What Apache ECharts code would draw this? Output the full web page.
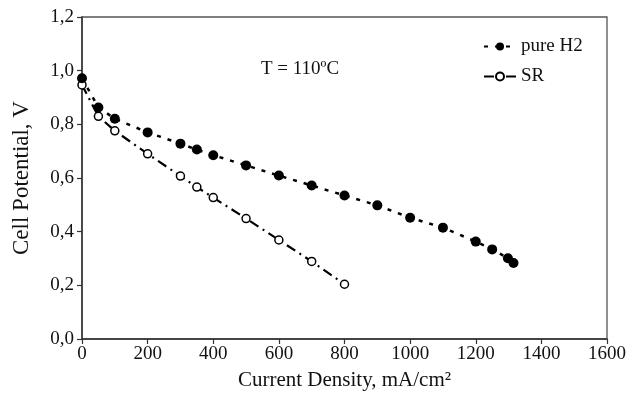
<!DOCTYPE html>
<html>
<head>
<meta charset="utf-8">
<script src="https://cdn.jsdelivr.net/npm/echarts@6/dist/echarts.min.js"></script>
<style>html,body{margin:0;padding:0;background:#fff}#c{width:638px;height:396px}</style>
</head>
<body>
<div id="c"></div>
<script>
// Data
const h2Current = [0, 50, 100, 200, 300, 350, 400, 500, 600, 700, 800, 900, 1000, 1100, 1200, 1250, 1298, 1315];
const h2Voltage = [0.972, 0.863, 0.821, 0.770, 0.728, 0.706, 0.685, 0.647, 0.609, 0.572, 0.535, 0.498, 0.452, 0.415, 0.363, 0.334, 0.301, 0.283];
const srCurrent = [0, 50, 100, 200, 300, 350, 400, 500, 600, 700, 800];
const srVoltage = [0.947, 0.830, 0.776, 0.690, 0.607, 0.566, 0.527, 0.449, 0.369, 0.289, 0.204];
const seriesNames = ['pure H2', 'SR'];
const xTicks = [0, 200, 400, 600, 800, 1000, 1200, 1400, 1600];
const yTicks = [0.0, 0.2, 0.4, 0.6, 0.8, 1.0, 1.2];
const annotation = 'T = 110ºC';

const serif = '"Liberation Serif", "DejaVu Serif", serif';
const chart = echarts.init(document.getElementById('c'), null, {renderer: 'canvas'});
const pair = (xs, ys) => xs.map((x, i) => [x, ys[i]]);

chart.setOption({
  animation: false,
  backgroundColor: '#fff',
  grid: {left: 82, right: 31, top: 17, bottom: 56, show: true, borderColor: '#555', borderWidth: 1.3},
  legend: {
    orient: 'vertical', left: 478, top: 32, itemGap: 11, itemWidth: 32, itemHeight: 10,
    textStyle: {fontFamily: serif, fontSize: 19, color: '#111'},
    data: seriesNames
  },
  xAxis: {
    type: 'value', min: xTicks[0], max: xTicks[xTicks.length - 1], interval: 200,
    name: 'Current Density, mA/cm²', nameLocation: 'middle', nameGap: 31,
    nameTextStyle: {fontFamily: serif, fontSize: 21, color: '#111'},
    axisLine: {show: true, lineStyle: {color: '#333', width: 1.5}},
    axisTick: {show: true, length: 5, lineStyle: {color: '#333', width: 1.2}},
    axisLabel: {fontFamily: serif, fontSize: 19, color: '#111', margin: 6,
      formatter: v => String(v)},
    splitLine: {show: false}
  },
  yAxis: {
    type: 'value', min: yTicks[0], max: yTicks[yTicks.length - 1], interval: 0.2,
    name: 'Cell Potential, V', nameLocation: 'middle', nameGap: 49,
    nameTextStyle: {fontFamily: serif, fontSize: 23, color: '#111'},
    axisLine: {show: true, lineStyle: {color: '#333', width: 1.5}},
    axisTick: {show: true, length: 5, lineStyle: {color: '#333', width: 1.2}},
    axisLabel: {fontFamily: serif, fontSize: 19, color: '#111', margin: 8,
      formatter: v => v.toFixed(1).replace('.', ',')},
    splitLine: {show: false}
  },
  graphic: [{
    type: 'text', left: 261, top: 60,
    style: {text: annotation, font: '19px ' + serif, fill: '#111'}
  }],
  series: [
    {
      name: seriesNames[0], type: 'line', data: pair(h2Current, h2Voltage),
      symbol: 'circle', symbolSize: 10, showSymbol: true,
      itemStyle: {color: '#000', borderColor: '#000', borderWidth: 0},
      lineStyle: {color: '#000', width: 2.5, type: [4, 7]},
      z: 3
    },
    {
      name: seriesNames[1], type: 'line', data: pair(srCurrent, srVoltage),
      symbol: 'circle', symbolSize: 8, showSymbol: true,
      itemStyle: {color: '#fff', borderColor: '#000', borderWidth: 1.5},
      lineStyle: {color: '#000', width: 2.2, type: [10, 5, 2, 5]},
      z: 2
    }
  ]
});
</script>
</body>
</html>
